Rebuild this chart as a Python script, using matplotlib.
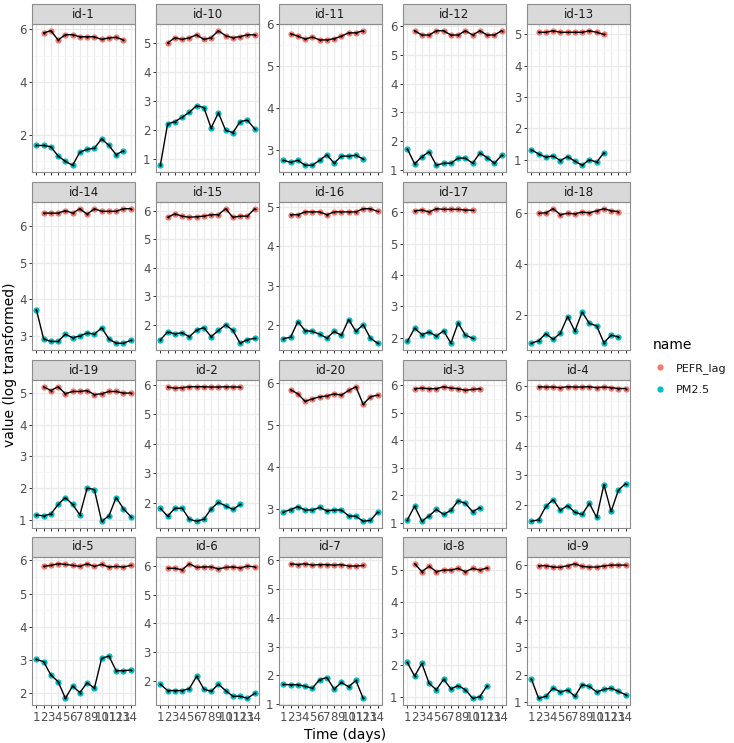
import numpy as np
import matplotlib
matplotlib.use('Agg')
import matplotlib.pyplot as plt
from matplotlib.patches import Rectangle
from matplotlib.lines import Line2D
from matplotlib.ticker import MultipleLocator

##
# DATA (PM2.5 starts on day 1, PEFR_lag on day 2)
ids = ['id-1', 'id-10', 'id-11', 'id-12', 'id-13', 'id-14', 'id-15', 'id-16', 'id-17', 'id-18',
       'id-19', 'id-2', 'id-20', 'id-3', 'id-4', 'id-5', 'id-6', 'id-7', 'id-8', 'id-9']

pefr = {
    'id-1': [5.87, 5.95, 5.6, 5.8, 5.8, 5.72, 5.72, 5.72, 5.62, 5.68, 5.7, 5.6],
    'id-10': [5.0, 5.18, 5.12, 5.18, 5.28, 5.12, 5.18, 5.42, 5.25, 5.18, 5.22, 5.28, 5.28],
    'id-11': [5.78, 5.72, 5.65, 5.7, 5.63, 5.63, 5.66, 5.72, 5.8, 5.8, 5.85],
    'id-12': [5.85, 5.7, 5.7, 5.85, 5.85, 5.7, 5.7, 5.85, 5.7, 5.85, 5.7, 5.7, 5.85],
    'id-13': [5.07, 5.07, 5.12, 5.07, 5.07, 5.07, 5.07, 5.12, 5.07, 5.0],
    'id-14': [6.35, 6.35, 6.35, 6.42, 6.35, 6.47, 6.32, 6.47, 6.4, 6.4, 6.4, 6.47, 6.47],
    'id-15': [5.78, 5.9, 5.82, 5.78, 5.8, 5.82, 5.87, 5.87, 6.08, 5.78, 5.82, 5.82, 6.08],
    'id-16': [4.8, 4.8, 4.87, 4.87, 4.87, 4.8, 4.87, 4.87, 4.87, 4.87, 4.95, 4.95, 4.88],
    'id-17': [6.05, 6.08, 6.02, 6.12, 6.1, 6.1, 6.1, 6.08, 6.07],
    'id-18': [6.0, 6.02, 6.18, 5.95, 6.0, 5.98, 6.05, 6.02, 6.1, 6.18, 6.1, 6.07],
    'id-19': [5.2, 5.08, 5.2, 4.98, 5.05, 5.05, 5.08, 4.95, 4.98, 5.05, 5.05, 5.0, 5.0],
    'id-2': [5.92, 5.88, 5.9, 5.93, 5.93, 5.93, 5.92, 5.92, 5.93, 5.92, 5.92],
    'id-20': [5.85, 5.75, 5.57, 5.63, 5.68, 5.7, 5.75, 5.72, 5.83, 5.92, 5.5, 5.68, 5.72],
    'id-3': [5.88, 5.9, 5.88, 5.88, 5.95, 5.9, 5.88, 5.82, 5.85, 5.88],
    'id-4': [5.98, 5.97, 5.97, 5.95, 5.98, 5.97, 5.97, 5.98, 5.95, 5.97, 5.95, 5.92, 5.92],
    'id-5': [5.82, 5.85, 5.9, 5.88, 5.85, 5.82, 5.9, 5.82, 5.88, 5.8, 5.82, 5.8, 5.85],
    'id-6': [5.92, 5.92, 5.87, 6.08, 5.95, 5.97, 5.97, 5.9, 5.95, 5.97, 5.93, 6.0, 5.97],
    'id-7': [5.88, 5.85, 5.88, 5.83, 5.85, 5.85, 5.83, 5.85, 5.8, 5.8, 5.82],
    'id-8': [5.2, 4.95, 5.12, 4.95, 5.0, 5.0, 5.05, 4.95, 5.05, 5.0, 5.07],
    'id-9': [5.98, 5.98, 5.93, 5.92, 5.98, 6.05, 5.95, 5.93, 5.93, 5.97, 6.0, 6.0, 6.0],
}

pm25 = {
    'id-1': [1.6, 1.6, 1.55, 1.2, 1.0, 0.85, 1.35, 1.45, 1.5, 1.85, 1.6, 1.25, 1.4],
    'id-10': [0.8, 2.22, 2.3, 2.45, 2.62, 2.85, 2.78, 2.08, 2.6, 2.0, 1.92, 2.3, 2.35, 2.05],
    'id-11': [2.75, 2.7, 2.75, 2.63, 2.63, 2.75, 2.88, 2.68, 2.85, 2.85, 2.87, 2.78],
    'id-12': [1.72, 1.2, 1.45, 1.62, 1.15, 1.22, 1.22, 1.4, 1.4, 1.22, 1.58, 1.42, 1.22, 1.5],
    'id-13': [1.32, 1.18, 1.08, 1.12, 0.97, 1.1, 0.95, 0.82, 1.0, 0.92, 1.22],
    'id-14': [3.72, 2.92, 2.85, 2.85, 3.05, 2.95, 3.0, 3.08, 3.05, 3.22, 2.92, 2.8, 2.8, 2.88],
    'id-15': [1.47, 1.75, 1.68, 1.72, 1.58, 1.82, 1.9, 1.58, 1.8, 2.0, 1.8, 1.35, 1.48, 1.52],
    'id-16': [1.67, 1.7, 2.1, 1.87, 1.85, 1.78, 1.68, 1.85, 1.75, 2.15, 1.85, 2.02, 1.68, 1.55],
    'id-17': [1.88, 2.3, 2.1, 2.18, 2.05, 2.22, 1.82, 2.47, 2.08, 1.98],
    'id-18': [0.9, 1.0, 1.28, 1.05, 1.3, 1.95, 1.38, 2.12, 1.68, 1.58, 0.92, 1.22, 1.15],
    'id-19': [1.15, 1.12, 1.18, 1.48, 1.7, 1.48, 1.15, 2.0, 1.95, 0.95, 1.12, 1.7, 1.35, 1.1],
    'id-2': [1.82, 1.55, 1.82, 1.82, 1.45, 1.38, 1.45, 1.8, 2.02, 1.9, 1.78, 1.95],
    'id-20': [2.92, 2.98, 3.05, 2.97, 2.97, 3.03, 2.95, 2.97, 2.97, 2.83, 2.82, 2.7, 2.72, 2.92],
    'id-3': [1.1, 1.6, 1.05, 1.25, 1.48, 1.3, 1.45, 1.8, 1.7, 1.4, 1.55],
    'id-4': [1.45, 1.5, 1.95, 2.18, 1.82, 1.98, 1.75, 1.68, 2.05, 1.58, 2.68, 1.78, 2.5, 2.72],
    'id-5': [3.02, 2.95, 2.55, 2.35, 1.85, 2.22, 2.02, 2.32, 2.15, 3.05, 3.12, 2.68, 2.68, 2.7],
    'id-6': [1.87, 1.65, 1.65, 1.65, 1.72, 2.15, 1.7, 1.62, 1.87, 1.65, 1.45, 1.45, 1.38, 1.55],
    'id-7': [1.68, 1.67, 1.67, 1.62, 1.55, 1.85, 1.92, 1.52, 1.75, 1.6, 1.82, 1.2],
    'id-8': [2.08, 1.65, 2.05, 1.42, 1.22, 1.55, 1.25, 1.35, 1.22, 0.95, 1.0, 1.35],
    'id-9': [1.85, 1.15, 1.22, 1.52, 1.38, 1.45, 1.22, 1.65, 1.58, 1.38, 1.47, 1.52, 1.4, 1.28],
}

days = list(range(1, 15))
big_step = ['id-1', 'id-18']   # panels whose y breaks go by 2

c_pefr = '#F8766D'
c_pm = '#00BFC4'
txt_grey = '#4D4D4D'

W, H = 734, 743
fig = plt.figure(figsize=(W / 100, H / 100), dpi=100)

col_left = [32, 156, 279, 403, 527]
row_top = [24, 202, 380, 557]
pw, ph, sh = 103, 148, 20

for i, pid in enumerate(ids):
    r, c = divmod(i, 5)
    ax = fig.add_axes([col_left[c] / W, 1 - (row_top[r] + ph) / H, pw / W, ph / H])
    y_pm = pm25[pid]
    y_pe = pefr[pid]
    x_pm = days[:len(y_pm)]
    x_pe = days[1:len(y_pe) + 1]

    for x, y, col in [(x_pe, y_pe, c_pefr), (x_pm, y_pm, c_pm)]:
        ax.plot(x, y, 'o', color=col, ms=4.5, mec='none', zorder=3)
        ax.plot(x, y, '-', color='black', lw=1.0, zorder=4)
        ax.plot(x, y, 'o', color='black', ms=1.6, mec='none', zorder=5)

    allv = np.array(y_pm + y_pe)
    lo, hi = allv.min(), allv.max()
    pad = 0.05 * (hi - lo)
    ax.set_ylim(lo - pad, hi + pad)
    ax.set_xlim(0.4, 14.6)

    step = 2 if pid in big_step else 1
    ax.yaxis.set_major_locator(MultipleLocator(step))
    ax.yaxis.set_minor_locator(MultipleLocator(step / 2))
    ax.set_xticks(days)
    ax.grid(True, which='major', color='#EBEBEB', lw=0.9)
    ax.grid(True, which='minor', axis='y', color='#F4F4F4', lw=0.5)
    ax.set_axisbelow(True)
    ax.tick_params(axis='y', which='minor', length=0)
    ax.tick_params(which='major', length=2.5, width=0.7, color='#333333',
                   labelsize=8.5, labelcolor=txt_grey, pad=1.5)
    if r < 3:
        ax.tick_params(axis='x', labelbottom=False)
    else:
        ax.set_xticklabels([str(d) for d in days])
    for sp in ax.spines.values():
        sp.set_color('#8C8C8C')
        sp.set_linewidth(0.8)

    # facet strip
    ax.add_patch(Rectangle((0, 1), 1, sh / ph, transform=ax.transAxes, clip_on=False,
                           facecolor='#D9D9D9', edgecolor='#8C8C8C', lw=0.8))
    ax.text(0.5, 1 + sh / ph / 2, pid, transform=ax.transAxes, ha='center', va='center',
            fontsize=8.5, color='#1A1A1A')

fig.text(345 / W, 1 - 735 / H, 'Time (days)', ha='center', va='center', fontsize=10)
fig.text(10 / W, 1 - 365 / H, 'value (log transformed)', ha='center', va='center',
         rotation=90, fontsize=10)

handles = [Line2D([], [], ls='none', marker='o', ms=4.5, mec='none', color=c_pefr),
           Line2D([], [], ls='none', marker='o', ms=4.5, mec='none', color=c_pm)]
leg = fig.legend(handles, ['PEFR_lag', 'PM2.5'], title='name', loc='upper left',
                 bbox_to_anchor=(643 / W, 1 - 328 / H), frameon=False, fontsize=8,
                 title_fontsize=10, handlelength=1.2, handletextpad=0.9, labelspacing=1.0,
                 alignment='left')
for t in leg.get_texts():
    t.set_color('#1A1A1A')

fig.savefig('out.png', dpi=100)
